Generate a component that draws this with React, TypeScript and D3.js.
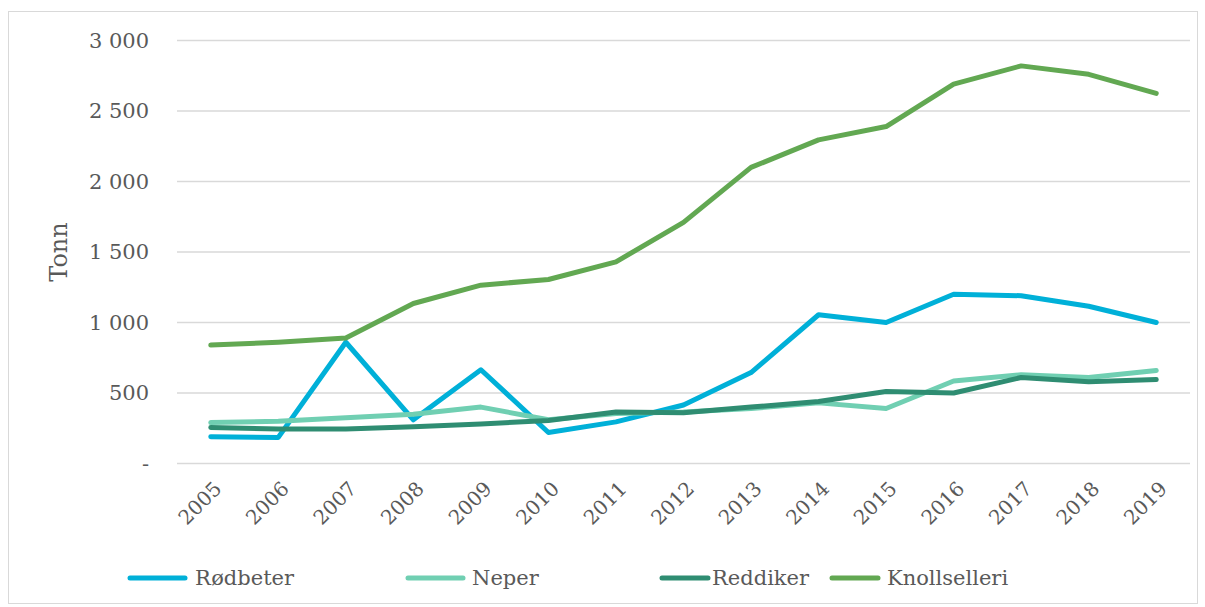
import { formatLocale, line, scaleBand, scaleLinear } from "d3";
import type { FC } from "react";

const years = ["2005", "2006", "2007", "2008", "2009", "2010", "2011", "2012", "2013", "2014", "2015", "2016", "2017", "2018", "2019"];
const rodbeter = [190, 185, 860, 310, 665, 220, 295, 415, 645, 1055, 1000, 1200, 1190, 1115, 1000];
const neper = [290, 300, 325, 350, 400, 310, 355, 365, 390, 430, 390, 585, 630, 610, 660];
const reddiker = [255, 245, 245, 260, 280, 305, 365, 360, 400, 440, 510, 500, 610, 580, 595];
const knollselleri = [840, 860, 890, 1135, 1265, 1305, 1430, 1710, 2100, 2295, 2390, 2690, 2820, 2760, 2625];
const yTicks = [0, 500, 1000, 1500, 2000, 2500, 3000];

const series = [
  { name: "Rødbeter", values: rodbeter, color: "#00B0D8" },
  { name: "Neper", values: neper, color: "#70CFB2" },
  { name: "Reddiker", values: reddiker, color: "#2F8D72" },
  { name: "Knollselleri", values: knollselleri, color: "#62A852" },
];
// legend slots: line start, line end, text start
const legendX = [
  [130, 185, 195],
  [408, 463, 472],
  [662, 708, 712],
  [832, 878, 887],
];

const W = 1205;
const H = 607;
const font = "Georgia, 'DejaVu Serif', 'Liberation Serif', serif";
const fmt = formatLocale({ decimal: ",", thousands: "\u00a0", grouping: [3], currency: ["", ""] }).format(",d");

const Chart: FC = () => {
  const x = scaleBand<string>().domain(years).range([177, 1190]);
  const y = scaleLinear().domain([0, 3000]).range([463.5, 40.5]);
  const cx = (i: number) => (x(years[i]) ?? 0) + x.bandwidth() / 2;
  const path = line<number>()
    .x((_, i) => cx(i))
    .y((d) => y(d));

  return (
    <svg width={W} height={H} style={{ display: "block", fontFamily: font }}>
      <rect x={0} y={0} width={W} height={H} fill="#fff" />
      <rect x={8.5} y={11.5} width={1189} height={592} fill="none" stroke="#d9d9d9" />
      {yTicks.map((t) => (
        <g key={t}>
          <line x1={177} x2={1190} y1={y(t)} y2={y(t)} stroke="#d9d9d9" strokeWidth={1.5} />
          <text x={149} y={y(t)} dy="0.35em" textAnchor="end" fontSize={21} fill="#595959">
            {t === 0 ? "-" : fmt(t)}
          </text>
        </g>
      ))}
      <text
        transform={`translate(67,252) rotate(-90)`}
        textAnchor="middle"
        fontSize={24}
        fill="#595959"
      >
        Tonn
      </text>
      {years.map((yr, i) => (
        <text
          key={yr}
          transform={`translate(${cx(i) + 12},${490}) rotate(-45)`}
          textAnchor="end"
          fontSize={20}
          fill="#595959"
        >
          {yr}
        </text>
      ))}
      {series.map((s) => (
        <path
          key={s.name}
          d={path(s.values) || ""}
          fill="none"
          stroke={s.color}
          strokeWidth={5}
          strokeLinecap="round"
          strokeLinejoin="round"
        />
      ))}
      {series.map((s, i) => (
        <g key={s.name}>
          <line
            x1={legendX[i][0]}
            x2={legendX[i][1]}
            y1={578}
            y2={578}
            stroke={s.color}
            strokeWidth={5}
            strokeLinecap="round"
          />
          <text x={legendX[i][2]} y={578} dy="0.35em" fontSize={21} fill="#595959">
            {s.name}
          </text>
        </g>
      ))}
    </svg>
  );
};

export default function App() {
  return (
    <div style={{ position: "absolute", left: 0, top: 0 }}>
      <Chart />
    </div>
  );
}
